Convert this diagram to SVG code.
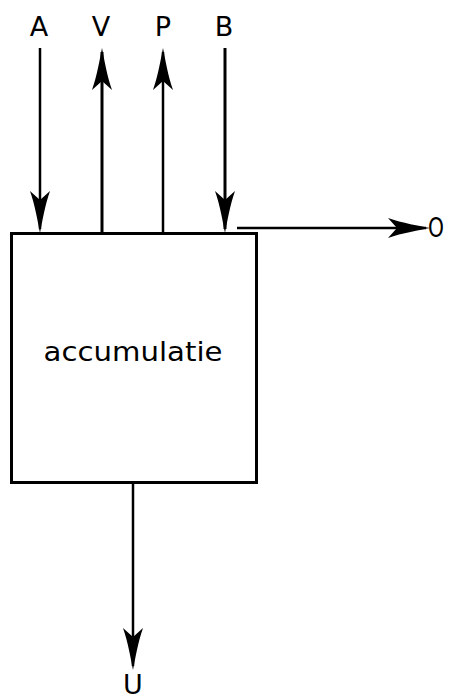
<svg xmlns="http://www.w3.org/2000/svg" width="454" height="700" viewBox="0 0 454 700">
<style>
.lbl{font-family:"DejaVu Sans","Liberation Sans",sans-serif;font-size:27px;fill:#000;text-anchor:middle}
.ln{stroke:#000;fill:none;stroke-linecap:butt}
.box{stroke:#000;stroke-width:3;fill:#fff}
</style>
<defs>
<marker id="ah" viewBox="-46 -12 48 24" markerWidth="48" markerHeight="24" refX="-4" refY="0" orient="auto" markerUnits="userSpaceOnUse">
<path d="M0,0 C-10,-2 -28,-5 -42,-10 L-33,0 L-42,10 C-28,5 -10,2 0,0 Z" fill="#000"/>
</marker>
</defs>
<rect width="454" height="700" fill="#fff"/>
<g id="accumulatie">
<rect class="box" x="11.5" y="233.5" width="245" height="249"/>
<text class="lbl" x="133" y="361" textLength="179" lengthAdjust="spacingAndGlyphs">accumulatie</text>
</g>
<g id="A"><text class="lbl" x="39" y="36">A</text></g>
<g id="V"><text class="lbl" x="101" y="36">V</text></g>
<g id="P"><text class="lbl" x="163" y="36">P</text></g>
<g id="B"><text class="lbl" x="224" y="36">B</text></g>
<g id="O"><text class="lbl" x="436" y="237" text-anchor="start" textLength="16" lengthAdjust="spacingAndGlyphs">O</text></g>
<g id="U"><text class="lbl" x="133" y="694">U</text></g>
<g id="connectors">
<line class="ln" x1="40" y1="48" x2="40" y2="229" stroke-width="2.5" marker-end="url(#ah)"/>
<line class="ln" x1="102" y1="233" x2="102" y2="52" stroke-width="3" marker-end="url(#ah)"/>
<line class="ln" x1="163" y1="233" x2="163" y2="52" stroke-width="2.5" marker-end="url(#ah)"/>
<line class="ln" x1="225" y1="48" x2="225" y2="229" stroke-width="3" marker-end="url(#ah)"/>
<line class="ln" x1="237" y1="228" x2="426" y2="228" stroke-width="2.5" marker-end="url(#ah)"/>
<line class="ln" x1="133" y1="483" x2="133" y2="666" stroke-width="2.5" marker-end="url(#ah)"/>
</g>
</svg>
